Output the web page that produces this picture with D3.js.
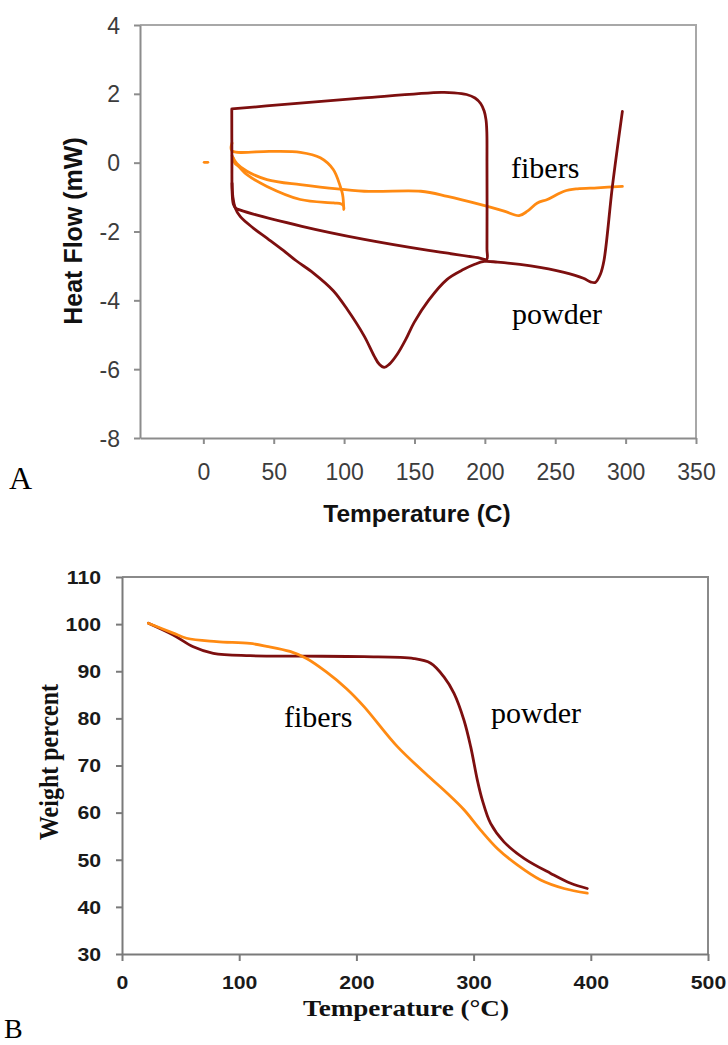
<!DOCTYPE html>
<html>
<head>
<meta charset="utf-8">
<title>DSC and TGA of powder and fibers</title>
<script src="https://cdn.jsdelivr.net/npm/d3@7/dist/d3.min.js"></script>
<style>
  body { margin: 0; background: #ffffff; }
</style>
</head>
<body>
<script>

// ---- panel A: DSC (heat flow vs temperature) ----
var dscTicksX = [0, 50, 100, 150, 200, 250, 300, 350];
var dscTicksY = [-8, -6, -4, -2, 0, 2, 4];

// powder, first cycle: heat 20 -> 200, cool 200 -> 20
var powderCycleT  = [20.2, 20.3, 20.5, 21.3, 23.0, 26.3, 70, 114.3, 160, 195, 201.3, 201.5, 201.5, 201.4, 200.8, 199.5, 197, 193, 187, 178, 169, 114, 60, 20.2];
var powderCycleHF = [1.56, 0.0, -0.9, -1.2, -1.32, -1.38, -1.85, -2.23, -2.55, -2.76, -2.81, -2.5, 0.0, 0.9, 1.25, 1.5, 1.72, 1.88, 1.98, 2.03, 2.04, 1.88, 1.70, 1.56];

// powder, second heating 20 -> 300
var powderHeatT  = [20.4, 21.0, 22.5, 26.3, 35.5, 45.4, 56.8, 66, 78, 92.3, 102.2, 114.3, 121.4, 125, 128.5, 132, 138, 144, 149.8, 160, 173.2, 185, 192.4, 199.5, 209, 232.6, 256.3, 270, 275.4, 278.5, 282, 284.6, 290.6, 297.7];
var powderHeatHF = [-0.6, -1.0, -1.3, -1.57, -1.9, -2.2, -2.55, -2.85, -3.2, -3.72, -4.26, -5.04, -5.62, -5.86, -5.95, -5.86, -5.55, -5.12, -4.64, -4.0, -3.39, -3.1, -2.96, -2.87, -2.89, -3.0, -3.19, -3.36, -3.47, -3.48, -3.25, -2.85, -0.69, 1.49];

// fibers, first cycle: heat 20 -> 100, cool 100 -> 20
var fibersCycleT  = [21.0, 22.5, 25.1, 31.0, 45.2, 68.9, 92.5, 98.0, 99.6, 99.8, 99.2, 98.5, 97.3, 92.3, 83.1, 68.9, 47.6, 20.2, 20.4];
var fibersCycleHF = [0.15, -0.02, -0.11, -0.35, -0.69, -1.07, -1.17, -1.2, -1.26, -1.36, -1.0, -0.85, -0.69, -0.20, 0.14, 0.30, 0.33, 0.35, 0.57];

// fibers, second heating 20 -> 300
var fibersHeatT  = [20.5, 23.9, 31.0, 45.2, 68.9, 114.3, 154.5, 173.4, 197.1, 213.7, 224.3, 230.2, 237.3, 244.4, 256.3, 265.7, 279.9, 297.7];
var fibersHeatHF = [0.2, -0.03, -0.25, -0.49, -0.64, -0.83, -0.83, -0.98, -1.22, -1.41, -1.54, -1.41, -1.17, -1.07, -0.83, -0.76, -0.73, -0.69];

// stray fibers point near 0 C
var fibersDotT  = [0.6, 3.2];
var fibersDotHF = [0.01, 0.01];

// ---- panel B: TGA (weight percent vs temperature) ----
var tgaTicksX = [0, 100, 200, 300, 400, 500];
var tgaTicksY = [30, 40, 50, 60, 70, 80, 90, 100, 110];

var powderTgaT = [22.5, 43.7, 60.8, 77.9, 109.2, 151.9, 206.5, 249, 263.4, 274.7, 283.3, 291.8, 297.5, 303.2, 307.4, 314.5, 325.9, 343, 365.8, 382.8, 397];
var powderTgaW = [100.2, 97.7, 95.2, 93.8, 93.3, 93.2, 93.1, 92.7, 91.7, 88.8, 85.3, 79.6, 74.0, 66.9, 62.7, 57.7, 53.8, 50.3, 47.1, 45.0, 43.9];

var fibersTgaT = [22.5, 43.7, 55.1, 80.7, 109.2, 123.4, 143.3, 157.5, 174.6, 191.6, 206.5, 235, 263.4, 277.5, 291.8, 306, 320.2, 337.3, 357.2, 377.1, 397];
var fibersTgaW = [100.2, 98.1, 97.0, 96.3, 95.9, 95.3, 94.2, 92.7, 89.8, 86.3, 82.5, 74.0, 67.3, 64.1, 60.6, 56.3, 52.4, 48.9, 45.7, 43.9, 42.9];

var powderColor = "#7d0f0f";
var fibersColor = "#ff8a12";

function zip(xs, ys) {
    return xs.map(function(x, i) { return [x, ys[i]]; });
}

// plain hyphen for negative ticks, like the original
function plain(d) { return String(d); }

var svg = d3.select("body")
    .append("svg")
    .attr("width", 728)
    .attr("height", 1045)
    .style("background", "#ffffff");


// ================= panel A =================
var xA = d3.scaleLinear().domain([-45, 350]).range([140, 696]);
var yA = d3.scaleLinear().domain([-8, 4]).range([438, 25]);

var gA = svg.append("g");

// top and right frame
gA.append("path")
    .attr("d", "M" + xA(-45) + "," + yA(4) + "H" + xA(350) + "V" + yA(-8))
    .attr("fill", "none").attr("stroke", "#a8a8a8").attr("stroke-width", 2);

var axAy = gA.append("g")
    .attr("transform", "translate(" + xA(-45) + ",0)")
    .call(d3.axisLeft(yA).tickValues(dscTicksY).tickFormat(plain).tickSize(6).tickSizeOuter(0));
var axAx = gA.append("g")
    .attr("transform", "translate(0," + yA(-8) + ")")
    .call(d3.axisBottom(xA).tickValues(dscTicksX).tickFormat(plain).tickSize(6).tickSizeOuter(0));

[axAx, axAy].forEach(function(ax) {
    ax.attr("font-family", "'Liberation Sans', Arial, sans-serif").attr("font-size", 23);
    ax.selectAll("path, line").attr("stroke", "#8c8c8c").attr("stroke-width", 2);
    ax.selectAll("text").attr("fill", "#3c3c3c");
});
axAy.selectAll("text").attr("x", -20).attr("dy", "0.35em");
axAx.selectAll("text").attr("y", 34).attr("dy", "0.35em");

var lineA = d3.line()
    .x(function(d) { return xA(d[0]); })
    .y(function(d) { return yA(d[1]); })
    .curve(d3.curveCatmullRom.alpha(0.5));

var seriesA = [
    [zip(fibersCycleT, fibersCycleHF), fibersColor],
    [zip(fibersHeatT, fibersHeatHF), fibersColor],
    [zip(fibersDotT, fibersDotHF), fibersColor],
    [zip(powderCycleT, powderCycleHF), powderColor],
    [zip(powderHeatT, powderHeatHF), powderColor]
];
seriesA.forEach(function(s) {
    gA.append("path")
        .datum(s[0])
        .attr("d", lineA)
        .attr("fill", "none")
        .attr("stroke", s[1])
        .attr("stroke-width", 2.8)
        .attr("stroke-linejoin", "round")
        .attr("stroke-linecap", "round");
});

// axis titles
gA.append("text")
    .text("Heat Flow (mW)")
    .attr("transform", "translate(82,231) rotate(-90)")
    .attr("text-anchor", "middle")
    .attr("font-family", "'Liberation Sans', Arial, sans-serif")
    .attr("font-weight", "bold").attr("font-size", 25).attr("fill", "#111");
gA.append("text")
    .text("Temperature (C)")
    .attr("x", 417).attr("y", 522)
    .attr("text-anchor", "middle")
    .attr("font-family", "'Liberation Sans', Arial, sans-serif")
    .attr("font-weight", "bold").attr("font-size", 24.5).attr("fill", "#111");

// curve labels
gA.append("text").text("fibers").attr("x", 511).attr("y", 178)
    .attr("font-family", "'Liberation Serif', 'Times New Roman', serif").attr("font-size", 30).attr("fill", "#000");
gA.append("text").text("powder").attr("x", 512).attr("y", 324)
    .attr("font-family", "'Liberation Serif', 'Times New Roman', serif").attr("font-size", 30).attr("fill", "#000");

svg.append("text").text("A").attr("x", 9).attr("y", 489)
    .attr("font-family", "'Liberation Serif', 'Times New Roman', serif").attr("font-size", 32).attr("fill", "#000");


// ================= panel B =================
var xB = d3.scaleLinear().domain([0, 500]).range([122, 708]);
var yB = d3.scaleLinear().domain([30, 110]).range([954, 577]);
var stretchB = 1.18;

var gB = svg.append("g");

gB.append("path")
    .attr("d", "M" + xB(0) + "," + yB(110) + "H" + xB(500) + "V" + yB(30))
    .attr("fill", "none").attr("stroke", "#8a8a8a").attr("stroke-width", 2);

var axBy = gB.append("g")
    .attr("transform", "translate(" + xB(0) + ",0)")
    .call(d3.axisLeft(yB).tickValues(tgaTicksY).tickFormat(plain).tickSize(6).tickSizeOuter(0));
var axBx = gB.append("g")
    .attr("transform", "translate(0," + yB(30) + ")")
    .call(d3.axisBottom(xB).tickValues(tgaTicksX).tickFormat(plain).tickSize(7).tickSizeOuter(0));

[axBx, axBy].forEach(function(ax) {
    ax.attr("font-family", "'Liberation Sans', Arial, sans-serif").attr("font-size", 18).attr("font-weight", "bold");
    ax.selectAll("path, line").attr("stroke", "#7a7a7a").attr("stroke-width", 2);
    ax.selectAll("text").attr("fill", "#1a1a1a");
});
axBy.selectAll("text").attr("x", 0).attr("dy", "0.35em")
    .attr("transform", "translate(-21,0) scale(" + stretchB + ",1)");
axBx.selectAll("text").attr("y", 0).attr("dy", "0.35em")
    .attr("transform", "translate(0,29) scale(" + stretchB + ",1)");

var lineB = d3.line()
    .x(function(d) { return xB(d[0]); })
    .y(function(d) { return yB(d[1]); })
    .curve(d3.curveCatmullRom.alpha(0.5));

[[zip(powderTgaT, powderTgaW), powderColor], [zip(fibersTgaT, fibersTgaW), fibersColor]].forEach(function(s) {
    gB.append("path")
        .datum(s[0])
        .attr("d", lineB)
        .attr("fill", "none")
        .attr("stroke", s[1])
        .attr("stroke-width", 2.8)
        .attr("stroke-linecap", "round");
});

gB.append("text")
    .text("Weight percent")
    .attr("transform", "translate(58,762) rotate(-90) scale(1," + stretchB + ")")
    .attr("text-anchor", "middle")
    .attr("font-family", "'Liberation Serif', 'Times New Roman', serif")
    .attr("font-weight", "bold").attr("font-size", 24).attr("fill", "#111");
gB.append("text")
    .text("Temperature (°C)")
    .attr("transform", "translate(406,1016) scale(" + stretchB + ",1)")
    .attr("text-anchor", "middle")
    .attr("font-family", "'Liberation Serif', 'Times New Roman', serif")
    .attr("font-weight", "bold").attr("font-size", 23).attr("fill", "#111");

gB.append("text").text("fibers").attr("x", 284).attr("y", 727)
    .attr("font-family", "'Liberation Serif', 'Times New Roman', serif").attr("font-size", 30).attr("fill", "#000");
gB.append("text").text("powder").attr("x", 491).attr("y", 723)
    .attr("font-family", "'Liberation Serif', 'Times New Roman', serif").attr("font-size", 30).attr("fill", "#000");

svg.append("text").text("B").attr("x", 4).attr("y", 1038)
    .attr("font-family", "'Liberation Serif', 'Times New Roman', serif").attr("font-size", 28).attr("fill", "#000");

</script>
</body>
</html>
